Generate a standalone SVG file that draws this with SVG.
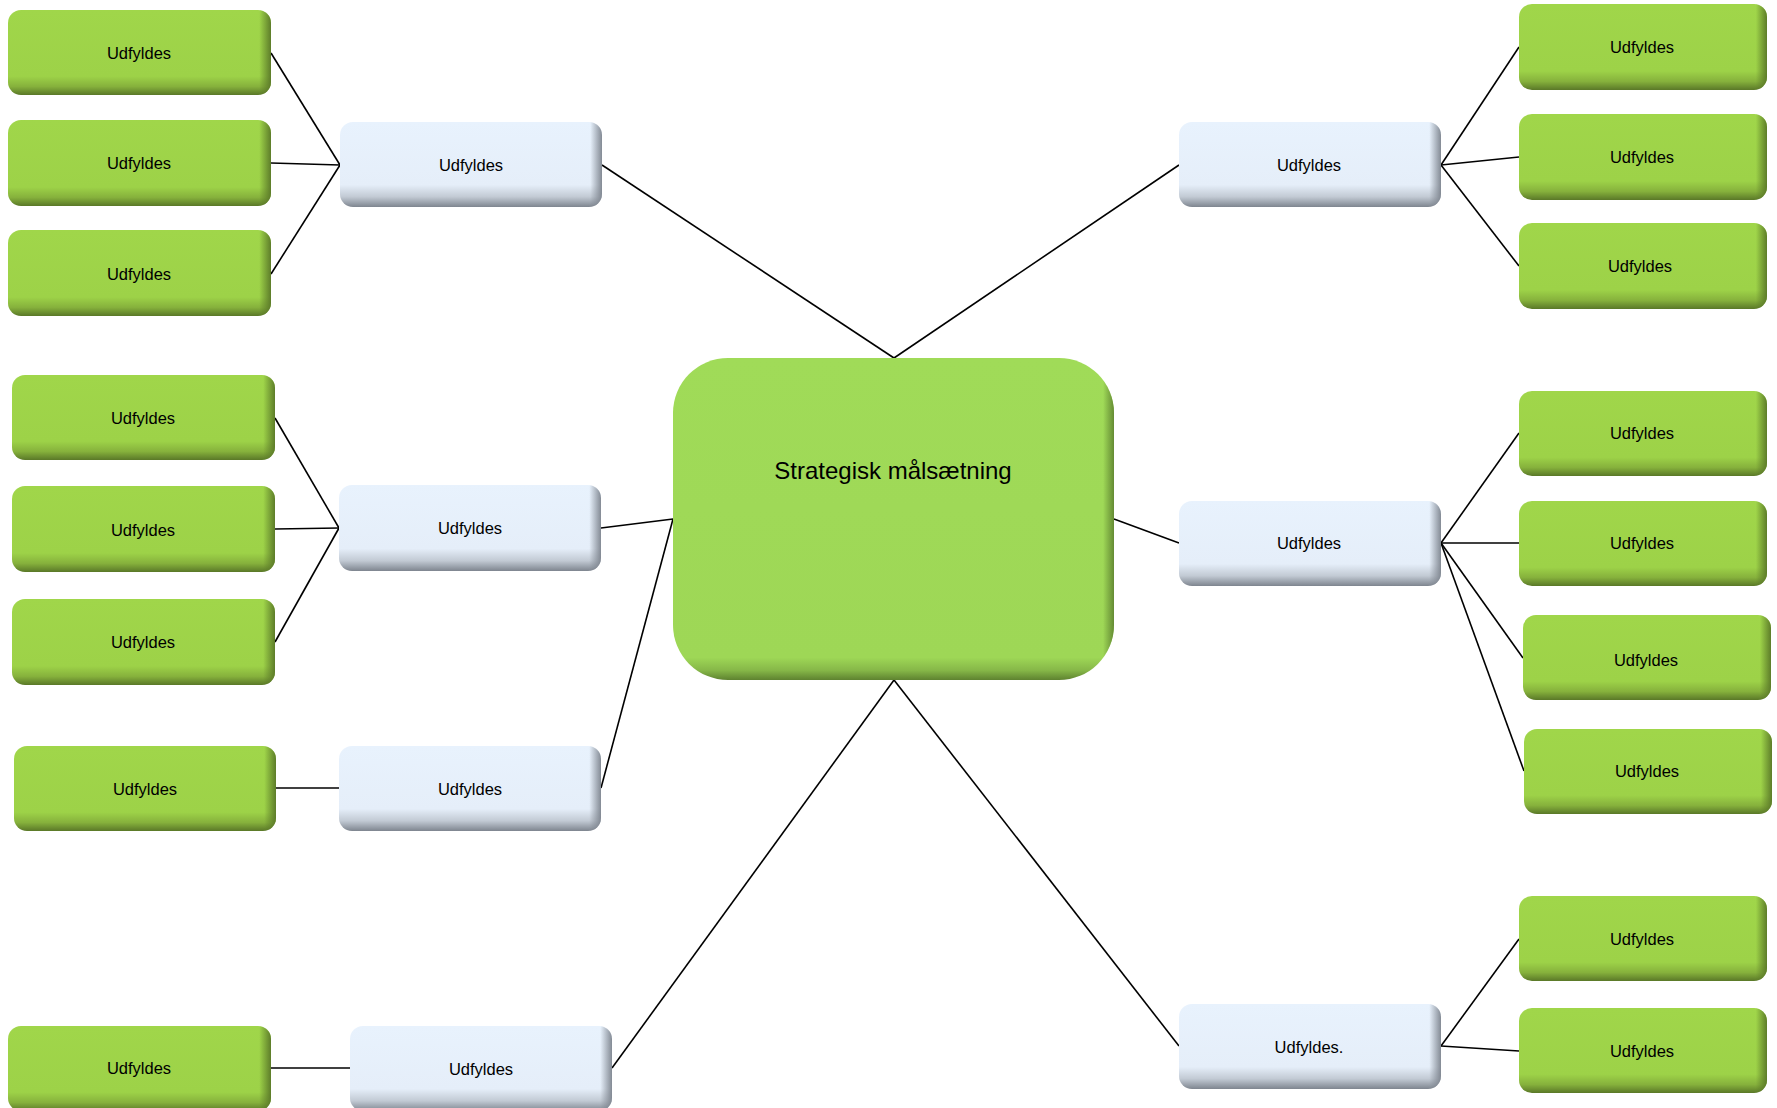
<svg xmlns="http://www.w3.org/2000/svg" width="1777" height="1108" viewBox="0 0 1777 1108">
<defs>
<linearGradient id="gV" x1="0" y1="0" x2="0" y2="1">
<stop offset="0" stop-color="#A0D64A"/><stop offset="0.78" stop-color="#9DD248"/><stop offset="0.9" stop-color="#86B13C"/><stop offset="1" stop-color="#5A7828"/>
</linearGradient>
<linearGradient id="gH" x1="0" y1="0" x2="1" y2="0">
<stop offset="0" stop-color="#5A7828" stop-opacity="0"/><stop offset="0.955" stop-color="#5A7828" stop-opacity="0"/><stop offset="1" stop-color="#5A7828" stop-opacity="0.95"/>
</linearGradient>
<linearGradient id="bV" x1="0" y1="0" x2="0" y2="1">
<stop offset="0" stop-color="#E8F2FD"/><stop offset="0.74" stop-color="#E5EEF9"/><stop offset="0.88" stop-color="#C2CAD4"/><stop offset="1" stop-color="#7E858F"/>
</linearGradient>
<linearGradient id="bH" x1="0" y1="0" x2="1" y2="0">
<stop offset="0" stop-color="#7E858F" stop-opacity="0"/><stop offset="0.955" stop-color="#7E858F" stop-opacity="0"/><stop offset="1" stop-color="#7E858F" stop-opacity="0.95"/>
</linearGradient>
<linearGradient id="cV" x1="0" y1="0" x2="0" y2="1">
<stop offset="0" stop-color="#A0DB58"/><stop offset="0.93" stop-color="#9ED756"/><stop offset="0.97" stop-color="#86B748"/><stop offset="1" stop-color="#5E8230"/>
</linearGradient>
<linearGradient id="cH" x1="0" y1="0" x2="1" y2="0">
<stop offset="0" stop-color="#5E8230" stop-opacity="0"/><stop offset="0.975" stop-color="#5E8230" stop-opacity="0"/><stop offset="1" stop-color="#5E8230" stop-opacity="0.9"/>
</linearGradient>
</defs>
<style>
.gv{fill:url(#gV)}
.gh{fill:url(#gH)}
.bv{fill:url(#bV)}
.bh{fill:url(#bH)}
.cv{fill:url(#cV)}
.ch{fill:url(#cH)}
text{font-family:"Liberation Sans",Arial,sans-serif;font-size:16.5px;fill:#000;text-anchor:middle;dominant-baseline:central}
.big{font-size:24px}
.conn line{stroke:#000;stroke-width:1.6}
</style>
<rect width="1777" height="1108" fill="#fff"/>
<g class="conn" id="connectors">
<line x1="271" y1="53" x2="340" y2="165"/>
<line x1="271" y1="163" x2="340" y2="165"/>
<line x1="271" y1="274" x2="340" y2="165"/>
<line x1="602" y1="165" x2="894" y2="358"/>
<line x1="275" y1="418" x2="339" y2="528"/>
<line x1="275" y1="529" x2="339" y2="528"/>
<line x1="275" y1="642" x2="339" y2="528"/>
<line x1="601" y1="528" x2="673" y2="519"/>
<line x1="276" y1="788" x2="339" y2="788"/>
<line x1="601" y1="788" x2="673" y2="519"/>
<line x1="271" y1="1068" x2="350" y2="1068"/>
<line x1="612" y1="1068" x2="894" y2="680"/>
<line x1="894" y1="358" x2="1179" y2="165"/>
<line x1="1441" y1="165" x2="1519" y2="47"/>
<line x1="1441" y1="165" x2="1519" y2="157"/>
<line x1="1441" y1="165" x2="1519" y2="266"/>
<line x1="1114" y1="519" x2="1179" y2="543"/>
<line x1="1441" y1="543" x2="1519" y2="433"/>
<line x1="1441" y1="543" x2="1519" y2="543"/>
<line x1="1441" y1="543" x2="1523" y2="658"/>
<line x1="1441" y1="543" x2="1524" y2="771"/>
<line x1="894" y1="680" x2="1179" y2="1046"/>
<line x1="1441" y1="1046" x2="1519" y2="939"/>
<line x1="1441" y1="1046" x2="1519" y2="1051"/>
</g>
<g id="center">
<rect class="cv" x="673" y="358" width="441" height="322" rx="55"/>
<rect class="ch" x="673" y="358" width="441" height="322" rx="55"/>
<text class="big" x="893" y="470">Strategisk målsætning</text>
</g>
<g id="g1"><rect class="gv" x="8" y="10" width="263" height="85" rx="13"/><rect class="gh" x="8" y="10" width="263" height="85" rx="13"/><text x="139" y="53">Udfyldes</text></g>
<g id="g2"><rect class="gv" x="8" y="120" width="263" height="86" rx="13"/><rect class="gh" x="8" y="120" width="263" height="86" rx="13"/><text x="139" y="163">Udfyldes</text></g>
<g id="g3"><rect class="gv" x="8" y="230" width="263" height="86" rx="13"/><rect class="gh" x="8" y="230" width="263" height="86" rx="13"/><text x="139" y="274">Udfyldes</text></g>
<g id="b1"><rect class="bv" x="340" y="122" width="262" height="85" rx="13"/><rect class="bh" x="340" y="122" width="262" height="85" rx="13"/><text x="471" y="165">Udfyldes</text></g>
<g id="g4"><rect class="gv" x="12" y="375" width="263" height="85" rx="13"/><rect class="gh" x="12" y="375" width="263" height="85" rx="13"/><text x="143" y="418">Udfyldes</text></g>
<g id="g5"><rect class="gv" x="12" y="486" width="263" height="86" rx="13"/><rect class="gh" x="12" y="486" width="263" height="86" rx="13"/><text x="143" y="530">Udfyldes</text></g>
<g id="g6"><rect class="gv" x="12" y="599" width="263" height="86" rx="13"/><rect class="gh" x="12" y="599" width="263" height="86" rx="13"/><text x="143" y="642">Udfyldes</text></g>
<g id="b2"><rect class="bv" x="339" y="485" width="262" height="86" rx="13"/><rect class="bh" x="339" y="485" width="262" height="86" rx="13"/><text x="470" y="528">Udfyldes</text></g>
<g id="g7"><rect class="gv" x="14" y="746" width="262" height="85" rx="13"/><rect class="gh" x="14" y="746" width="262" height="85" rx="13"/><text x="145" y="789">Udfyldes</text></g>
<g id="b3"><rect class="bv" x="339" y="746" width="262" height="85" rx="13"/><rect class="bh" x="339" y="746" width="262" height="85" rx="13"/><text x="470" y="789">Udfyldes</text></g>
<g id="g8"><rect class="gv" x="8" y="1026" width="263" height="85" rx="13"/><rect class="gh" x="8" y="1026" width="263" height="85" rx="13"/><text x="139" y="1068">Udfyldes</text></g>
<g id="b4"><rect class="bv" x="350" y="1026" width="262" height="85" rx="13"/><rect class="bh" x="350" y="1026" width="262" height="85" rx="13"/><text x="481" y="1069">Udfyldes</text></g>
<g id="b5"><rect class="bv" x="1179" y="122" width="262" height="85" rx="13"/><rect class="bh" x="1179" y="122" width="262" height="85" rx="13"/><text x="1309" y="165">Udfyldes</text></g>
<g id="g9"><rect class="gv" x="1519" y="4" width="248" height="86" rx="13"/><rect class="gh" x="1519" y="4" width="248" height="86" rx="13"/><text x="1642" y="47">Udfyldes</text></g>
<g id="g10"><rect class="gv" x="1519" y="114" width="248" height="86" rx="13"/><rect class="gh" x="1519" y="114" width="248" height="86" rx="13"/><text x="1642" y="157">Udfyldes</text></g>
<g id="g11"><rect class="gv" x="1519" y="223" width="248" height="86" rx="13"/><rect class="gh" x="1519" y="223" width="248" height="86" rx="13"/><text x="1640" y="266">Udfyldes</text></g>
<g id="b6"><rect class="bv" x="1179" y="501" width="262" height="85" rx="13"/><rect class="bh" x="1179" y="501" width="262" height="85" rx="13"/><text x="1309" y="543">Udfyldes</text></g>
<g id="g12"><rect class="gv" x="1519" y="391" width="248" height="85" rx="13"/><rect class="gh" x="1519" y="391" width="248" height="85" rx="13"/><text x="1642" y="433">Udfyldes</text></g>
<g id="g13"><rect class="gv" x="1519" y="501" width="248" height="85" rx="13"/><rect class="gh" x="1519" y="501" width="248" height="85" rx="13"/><text x="1642" y="543">Udfyldes</text></g>
<g id="g14"><rect class="gv" x="1523" y="615" width="248" height="85" rx="13"/><rect class="gh" x="1523" y="615" width="248" height="85" rx="13"/><text x="1646" y="660">Udfyldes</text></g>
<g id="g15"><rect class="gv" x="1524" y="729" width="248" height="85" rx="13"/><rect class="gh" x="1524" y="729" width="248" height="85" rx="13"/><text x="1647" y="771">Udfyldes</text></g>
<g id="b7"><rect class="bv" x="1179" y="1004" width="262" height="85" rx="13"/><rect class="bh" x="1179" y="1004" width="262" height="85" rx="13"/><text x="1309" y="1047">Udfyldes.</text></g>
<g id="g16"><rect class="gv" x="1519" y="896" width="248" height="85" rx="13"/><rect class="gh" x="1519" y="896" width="248" height="85" rx="13"/><text x="1642" y="939">Udfyldes</text></g>
<g id="g17"><rect class="gv" x="1519" y="1008" width="248" height="85" rx="13"/><rect class="gh" x="1519" y="1008" width="248" height="85" rx="13"/><text x="1642" y="1051">Udfyldes</text></g>
</svg>
